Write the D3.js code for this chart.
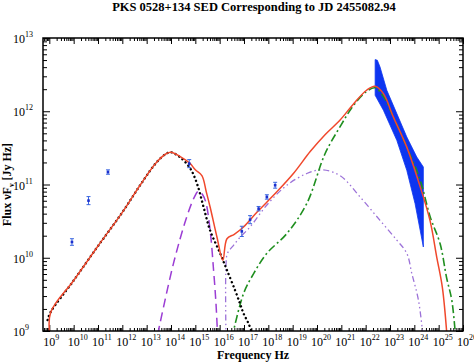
<!DOCTYPE html>
<html>
<head>
<meta charset="utf-8">
<script src="https://cdn.jsdelivr.net/npm/d3@7"></script>
<style>
  body { margin: 0; background: #fff; }
  text { font-family: "Liberation Serif", "DejaVu Serif", serif; }
</style>
</head>
<body>
<svg id="chart" width="474" height="363"></svg>
<script>
// model curves, [log10 nu, log10 nuFnu]
const synchrotron = [[8.93, 9.15], [9.04, 9.25], [10, 9.69], [11, 10.16], [12, 10.62], [12.75, 11.0],
  [13.4, 11.3], [13.8, 11.42], [14.0, 11.44], [14.38, 11.37], [14.79, 11.22], [15.07, 11.01],
  [15.34, 10.69], [15.61, 10.37], [16.02, 10.06], [16.3, 9.83], [16.64, 9.55], [16.84, 9.37],
  [16.98, 9.24], [17.19, 9.1], [17.35, 8.95]];
const disk = [[13.45, 8.95], [14.1, 9.92], [14.65, 10.56], [14.95, 10.82], [15.13, 10.91],
  [15.3, 10.86], [15.43, 10.76], [15.61, 10.37], [15.75, 9.83], [15.85, 9.37], [15.92, 8.9]];
const ssc = [[16.26, 8.9], [16.26, 9.9], [16.32, 10.06], [16.57, 10.17], [16.84, 10.28],
  [17.25, 10.42], [17.94, 10.72], [18.76, 10.99], [19.58, 11.15], [20.2, 11.2], [20.95, 11.12],
  [21.77, 10.83], [22.59, 10.51], [23.28, 10.24], [23.69, 10.06], [23.9, 9.78], [24.17, 9.42],
  [24.35, 8.95]];
const externalCompton = [[16.5, 8.9], [16.98, 9.51], [17.39, 9.78], [17.94, 10.06], [18.76, 10.33],
  [19.58, 10.74], [20.33, 11.42], [20.95, 11.79], [21.5, 12.08], [22.0, 12.26], [22.39, 12.32],
  [22.73, 12.2], [23.14, 11.92], [23.69, 11.51], [24.24, 11.06], [24.65, 10.56], [25.06, 10.19],
  [25.33, 9.72], [25.54, 9.42], [25.7, 8.9]];
const total = [[9.04, 8.9], [9.05, 9.25], [10, 9.69], [11, 10.16], [12, 10.62], [12.75, 11.0],
  [13.4, 11.3], [13.8, 11.42], [14.0, 11.44], [14.38, 11.38], [14.79, 11.285], [15.0, 11.2],
  [15.27, 11.12], [15.45, 10.9], [15.61, 10.69], [15.89, 10.28], [16.13, 9.965], [16.3, 10.26],
  [16.6, 10.32], [16.98, 10.42], [17.53, 10.62], [18.35, 10.9], [19.03, 11.15], [19.72, 11.45],
  [20.33, 11.68], [20.95, 11.88], [21.5, 12.1], [22.05, 12.29], [22.39, 12.34], [22.73, 12.24],
  [23.14, 11.92], [23.69, 11.51], [24.24, 10.97], [24.65, 10.5], [24.92, 10.01], [25.15, 9.6],
  [25.35, 8.9]];

// observed points
const obsLogNu = [9.93, 10.61, 11.41, 14.75, 16.91, 17.25, 17.6, 17.94, 18.28];
const obsLogF = [10.215, 10.78, 11.17, 11.285, 10.36, 10.52, 10.67, 10.83, 10.99];
const obsErr = [0.045, 0.055, 0.03, 0.055, 0.07, 0.055, 0.03, 0.03, 0.04];

// Fermi-LAT butterfly
const bowNu = [22.39, 22.48, 22.59, 22.87, 23.28, 23.69, 24.1, 24.37];
const bowUpper = [12.705, 12.696, 12.604, 12.286, 11.968, 11.649, 11.375, 11.239];
const bowNuLow = [22.39, 22.73, 23.28, 23.69, 24.03, 24.24, 24.37];
const bowLower = [12.218, 12.013, 11.603, 11.194, 10.739, 10.374, 10.147];

const xDecades = d3.range(9, 27);
const yDecades = [9, 10, 11, 12, 13];

const margin = { top: 38, right: 11, bottom: 32, left: 43 };
const width = 474 - margin.left - margin.right;
const height = 363 - margin.top - margin.bottom;

const svg = d3.select('#chart');

// title
svg.append('text')
  .attr('x', 474 / 2 + 17)
  .attr('y', 11)
  .attr('text-anchor', 'middle')
  .style('font-size', '12.5px')
  .style('font-weight', 'bold')
  .text('PKS 0528+134 SED Corresponding to JD 2455082.94');

const g = svg.append('g')
  .attr('transform', 'translate(' + margin.left + ',' + margin.top + ')');

const x = d3.scaleLog().domain([Math.pow(10, 8.74), 1e26]).range([0, width]);
const y = d3.scaleLog().domain([1e9, 1e13]).range([height, 0]);

g.append('clipPath').attr('id', 'clip')
  .append('rect').attr('width', width).attr('height', height);

// ticks
const xMinor = [], yMinor = [];
d3.range(8, 26).forEach(n => { for (let k = 2; k < 10; k++) { const v = k * Math.pow(10, n); if (v > x.domain()[0] && v < 1e26) xMinor.push(v); } });
d3.range(9, 13).forEach(n => { for (let k = 2; k < 10; k++) yMinor.push(k * Math.pow(10, n)); });
const xMajor = xDecades.map(n => Math.pow(10, n));
const yMajor = yDecades.map(n => Math.pow(10, n));

function tickAxis(axisFn, scale, values, size, transform) {
  const a = g.append('g')
    .attr('transform', transform || null)
    .call(axisFn(scale).tickValues(values).tickSize(-size).tickFormat(''));
  a.select('.domain').remove();
  a.selectAll('line').attr('stroke', '#000').attr('stroke-width', 1);
}
tickAxis(d3.axisBottom, x, xMinor, 3, 'translate(0,' + height + ')');
tickAxis(d3.axisBottom, x, xMajor, 6, 'translate(0,' + height + ')');
tickAxis(d3.axisTop, x, xMinor, 3);
tickAxis(d3.axisTop, x, xMajor, 6);
tickAxis(d3.axisLeft, y, yMinor, 4);
tickAxis(d3.axisLeft, y, yMajor, 7);
tickAxis(d3.axisRight, y, yMinor, 4, 'translate(' + width + ',0)');
tickAxis(d3.axisRight, y, yMajor, 7, 'translate(' + width + ',0)');

// tick labels
const xl = g.append('g').selectAll('g').data(xDecades).enter().append('g')
  .attr('transform', d => 'translate(' + x(Math.pow(10, d)) + ',' + (height + 15) + ')');
xl.append('text').attr('text-anchor', 'middle').style('font-size', '12px').text('10');
xl.append('text').attr('x', 6).attr('y', -6).style('font-size', '8px').text(d => d);

const yl = g.append('g').selectAll('g').data(yDecades).enter().append('g')
  .attr('transform', d => 'translate(-18,' + (y(Math.pow(10, d)) + 5) + ')');
yl.append('text').attr('text-anchor', 'end').style('font-size', '12px').text('10');
yl.append('text').attr('x', 0).attr('y', -6).style('font-size', '8px').text(d => d);

// axis titles
svg.append('text')
  .attr('x', margin.left + width / 2)
  .attr('y', 359)
  .attr('text-anchor', 'middle')
  .style('font-size', '12px')
  .style('font-weight', 'bold')
  .text('Frequency Hz');

const yt = svg.append('text')
  .attr('transform', 'translate(11,' + (margin.top + height / 2) + ') rotate(-90)')
  .attr('text-anchor', 'middle')
  .style('font-size', '12px')
  .style('font-weight', 'bold');
yt.append('tspan').text('Flux \u03BDF');
yt.append('tspan').attr('dy', 3).style('font-size', '8px').text('\u03BD');
yt.append('tspan').attr('dy', -3).text(' [Jy Hz]');

const plot = g.append('g').attr('clip-path', 'url(#clip)');

// butterfly
const bowPts = bowNu.map((n, i) => [n, bowUpper[i]])
  .concat(bowNuLow.map((n, i) => [n, bowLower[i]]).reverse());
plot.append('path')
  .attr('d', d3.line().x(d => x(Math.pow(10, d[0]))).y(d => y(Math.pow(10, d[1])))(bowPts) + 'Z')
  .attr('fill', '#0d35f0')
  .attr('stroke', '#0d35f0')
  .attr('stroke-width', 0.8);

const line = d3.line()
  .x(d => x(Math.pow(10, d[0])))
  .y(d => y(Math.pow(10, d[1])))
  .curve(d3.curveCatmullRom.alpha(0.5));

function curve(data, color, dash, w, cap) {
  plot.append('path')
    .attr('d', line(data))
    .attr('fill', 'none')
    .attr('stroke', color)
    .attr('stroke-width', w)
    .attr('stroke-dasharray', dash)
    .attr('stroke-linecap', cap || 'butt');
}
curve(disk, '#9b3dd4', '9,5', 1.5);
curve(ssc, '#9c72d8', '6,3,1.5,3,1.5,3', 1.3);
curve(externalCompton, '#1f8f1f', '8,3,2,3', 1.6);
curve(synchrotron, '#000', '0.1,4.2', 2.4, 'round');
curve(total, '#f0482c', null, 1.5);

// observed data with error bars
const obs = obsLogNu.map((n, i) => ({ nu: Math.pow(10, n), f: Math.pow(10, obsLogF[i]), e: obsErr[i], lf: obsLogF[i] }));
const pts = plot.append('g').selectAll('g').data(obs).enter().append('g');
pts.append('line')
  .attr('x1', d => x(d.nu)).attr('x2', d => x(d.nu))
  .attr('y1', d => y(Math.pow(10, d.lf + d.e))).attr('y2', d => y(Math.pow(10, d.lf - d.e)))
  .attr('stroke', '#3a66e0').attr('stroke-width', 1);
[1, -1].forEach(s => {
  pts.append('line')
    .attr('x1', d => x(d.nu) - 2).attr('x2', d => x(d.nu) + 2)
    .attr('y1', d => y(Math.pow(10, d.lf + s * d.e))).attr('y2', d => y(Math.pow(10, d.lf + s * d.e)))
    .attr('stroke', '#3a66e0').attr('stroke-width', 1);
});
pts.append('rect')
  .attr('x', d => x(d.nu) - 1.3).attr('y', d => y(d.f) - 1.3)
  .attr('width', 2.6).attr('height', 2.6)
  .attr('fill', '#1b2fcf');

// frame
g.append('rect')
  .attr('width', width).attr('height', height)
  .attr('fill', 'none').attr('stroke', '#000').attr('stroke-width', 1.5);
</script>
</body>
</html>
